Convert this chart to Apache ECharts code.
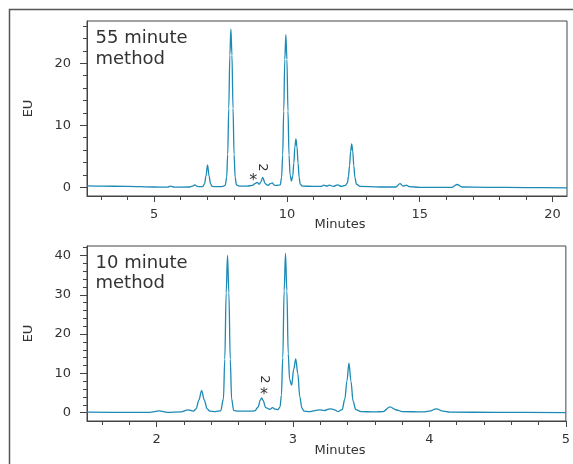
<!DOCTYPE html>
<html>
<head>
<meta charset="utf-8">
<script src="https://cdn.jsdelivr.net/npm/echarts@6/dist/echarts.min.js"></script>
<style>
html,body{margin:0;padding:0;background:#fff;}
#chart{width:573px;height:464px;}
</style>
</head>
<body>
<div id="chart"></div>
<script>
// ---- Data ----
// 55 minute method: [minutes, EU]
const method55 = [
  [2.47,0.22],[3.0,0.2],[4.0,0.15],[5.0,0.05],[5.5,0.02],[5.62,0.2],[5.75,0.02],[6.3,0.05],[6.45,0.2],[6.53,0.4],[6.62,0.15],[6.75,0.1],
  [6.84,0.15],[6.9,0.6],[6.95,1.8],[7.01,3.6],[7.07,1.8],[7.12,0.6],[7.18,0.15],
  [7.4,0.1],[7.6,0.15],
  [7.68,0.35],[7.73,1.6],[7.77,5.3],[7.81,12.7],[7.85,21.3],[7.89,25.5],[7.93,21.3],[7.97,12.7],[8.01,5.3],[8.05,1.6],[8.1,0.4],[8.2,0.2],
  [8.5,0.2],[8.7,0.3],[8.8,0.6],[8.88,0.8],[8.96,0.5],[9.01,0.8],[9.09,1.6],[9.18,0.6],[9.28,0.3],[9.38,0.6],[9.45,0.7],[9.52,0.35],[9.6,0.3],
  [9.75,0.4],[9.8,1.6],[9.84,5.2],[9.88,12.3],[9.92,20.6],[9.96,24.6],[10.0,20.6],[10.04,12.3],[10.08,5.2],[10.12,2.0],
  [10.17,1.0],[10.22,1.8],[10.26,3.9],[10.3,6.5],[10.34,7.8],[10.38,6.5],[10.42,3.9],[10.46,1.6],[10.5,0.5],[10.58,0.2],
  [11.0,0.15],[11.3,0.15],[11.39,0.35],[11.5,0.2],[11.6,0.35],[11.75,0.15],[11.91,0.4],[12.05,0.15],[12.2,0.3],
  [12.28,0.7],[12.32,1.8],[12.36,3.5],[12.4,5.8],[12.44,7.0],[12.48,5.8],[12.52,3.5],[12.56,1.6],[12.62,0.5],[12.75,0.15],
  [13.5,0.05],[14.1,0.05],[14.26,0.6],[14.38,0.2],[14.5,0.35],[14.62,0.1],[15.0,0.0],[16.2,0.0],[16.41,0.45],[16.6,0.05],
  [17.5,0.0],[19.0,-0.05],[20.55,-0.1]
];
// 10 minute method: [minutes, EU]
const method10 = [
  [1.49,0.15],[1.8,0.1],[1.95,0.1],[2.02,0.5],[2.08,0.1],[2.18,0.2],[2.23,0.75],[2.27,0.4],
  [2.29,1.0],[2.31,3.2],[2.33,5.6],[2.35,3.2],[2.37,1.0],[2.39,0.4],[2.43,0.3],
  [2.47,0.5],[2.49,3.5],[2.5,13.6],[2.51,30.5],[2.52,40.0],[2.53,30.5],[2.54,13.6],[2.55,3.5],[2.565,0.6],[2.6,0.4],[2.7,0.4],
  [2.72,0.5],[2.745,1.5],[2.76,3.2],[2.77,3.8],[2.78,3.2],[2.8,1.3],[2.83,0.85],[2.85,1.3],[2.87,0.9],[2.89,0.8],
  [2.905,1.5],[2.915,4.5],[2.925,14.0],[2.935,31.0],[2.945,40.5],[2.955,31.0],[2.965,15.0],[2.975,8.5],
  [2.99,7.0],[3.005,11.0],[3.02,13.7],[3.035,10.0],[3.05,4.0],[3.065,1.2],[3.08,0.4],[3.12,0.3],
  [3.196,0.75],[3.23,0.55],[3.27,1.0],[3.3,0.8],[3.33,0.3],
  [3.36,0.8],[3.38,3.5],[3.395,8.0],[3.41,12.6],[3.425,8.0],[3.44,3.0],[3.46,0.8],[3.5,0.3],
  [3.6,0.2],[3.66,0.3],[3.71,1.5],[3.76,0.7],[3.8,0.3],[3.95,0.2],[4.0,0.4],[4.05,1.0],[4.1,0.4],[4.15,0.15],[4.5,0.1],[5.0,0.05]
];
// Tick values
const x55Labels = [5,10,15,20];
const x55Minor = [3,4,6,7,8,9,11,12,13,14,16,17,18,19];
const y55Labels = [0,10,20];
const y55Minor = [2,4,6,8,12,14,16,18,22,24,26];
const x10Labels = [2,3,4,5];
const x10Minor = [1.6,1.8,2.2,2.4,2.6,2.8,3.2,3.4,3.6,3.8,4.2,4.4,4.6,4.8];
const y10Labels = [0,10,20,30,40];
const y10Minor = [2,4,6,8,12,14,16,18,22,24,26,28,32,34,36,38,42];

const FONT = 'DejaVu Sans';
const TXT = '#333';
const LINE = '#1d8ab5';

function mainX(grid, min, max, labels) {
  return {
    type:'value', gridIndex:grid, min:min, max:max, position:'bottom',
    axisLine:{show:true, onZero:false, lineStyle:{color:'#444', width:1}},
    axisTick:{show:true, customValues:labels, length:6, lineStyle:{color:'#444'}},
    axisLabel:{show:true, customValues:labels, fontFamily:FONT, fontSize:13, color:TXT, margin:12},
    splitLine:{show:false}
  };
}
function minorX(grid, min, max, ticks) {
  return {
    type:'value', gridIndex:grid, min:min, max:max, position:'bottom',
    axisLine:{show:false, onZero:false},
    axisTick:{show:true, customValues:ticks, length:4, lineStyle:{color:'#444'}},
    axisLabel:{show:false}, splitLine:{show:false}
  };
}
function mainY(grid, min, max, labels) {
  return {
    type:'value', gridIndex:grid, min:min, max:max, position:'left',
    name:'EU', nameLocation:'middle', nameGap:52, nameRotate:90,
    nameTextStyle:{fontFamily:FONT, fontSize:13, color:TXT},
    axisLine:{show:true, onZero:false, lineStyle:{color:'#444', width:1}},
    axisTick:{show:true, customValues:labels, length:7, lineStyle:{color:'#444'}},
    axisLabel:{show:true, customValues:labels, fontFamily:FONT, fontSize:13, color:TXT, margin:16},
    splitLine:{show:false}
  };
}
function minorY(grid, min, max, ticks) {
  return {
    type:'value', gridIndex:grid, min:min, max:max, position:'left',
    axisLine:{show:false, onZero:false},
    axisTick:{show:true, customValues:ticks, length:4, lineStyle:{color:'#444'}},
    axisLabel:{show:false}, splitLine:{show:false}
  };
}
function txt(x, y, s, size, align, rot) {
  return {
    type:'text', x:x, y:y, z:100, rotation:rot || 0,
    style:{text:s, fontFamily:FONT, fontSize:size, fill:TXT,
      align:align, verticalAlign:'middle', textAlign:align, textVerticalAlign:'middle'}
  };
}

const chart = echarts.init(document.getElementById('chart'), null, {renderer:'canvas'});
chart.setOption({
  animation:false,
  backgroundColor:'#fff',
  grid:[
    {left:87, top:21, width:480, height:175, show:true, borderColor:'#444', borderWidth:1, backgroundColor:'transparent'},
    {left:87, top:246, width:480, height:175, show:true, borderColor:'#444', borderWidth:1, backgroundColor:'transparent'}
  ],
  xAxis:[ mainX(0,2.47,20.55,x55Labels), minorX(0,2.47,20.55,x55Minor),
          mainX(1,1.49,5.0,x10Labels), minorX(1,1.49,5.0,x10Minor) ],
  yAxis:[ mainY(0,-1.4,26.8,y55Labels), minorY(0,-1.4,26.8,y55Minor),
          mainY(1,-2.1,42.4,y10Labels), minorY(1,-2.1,42.4,y10Minor) ],
  series:[
    {type:'line', xAxisIndex:0, yAxisIndex:0, data:method55, showSymbol:false, smooth:0.35, smoothMonotone:'x',
     lineStyle:{color:LINE, width:1.3}, silent:true},
    {type:'line', xAxisIndex:2, yAxisIndex:2, data:method10, showSymbol:false, smooth:0.35, smoothMonotone:'x',
     lineStyle:{color:LINE, width:1.3}, silent:true}
  ],
  graphic:[
    {type:'rect', shape:{x:9.5, y:9.5, width:600, height:500}, style:{fill:'none', stroke:'#555', lineWidth:1.5}, z:0},
    txt(95.5, 38.7, '55 minute', 18, 'left'),
    txt(95.5, 59.4, 'method', 18, 'left'),
    txt(95.5, 263, '10 minute', 18, 'left'),
    txt(95.5, 283.7, 'method', 18, 'left'),
    txt(340, 224.5, 'Minutes', 13, 'center'),
    txt(340, 450.5, 'Minutes', 13, 'center'),
    txt(253.3, 181, '*', 16, 'center'),
    txt(262.7, 167.3, '2', 13, 'center', -Math.PI/2),
    txt(264, 395, '*', 16, 'center'),
    txt(264, 379.3, '2', 13, 'center', -Math.PI/2)
  ]
});
</script>
</body>
</html>
